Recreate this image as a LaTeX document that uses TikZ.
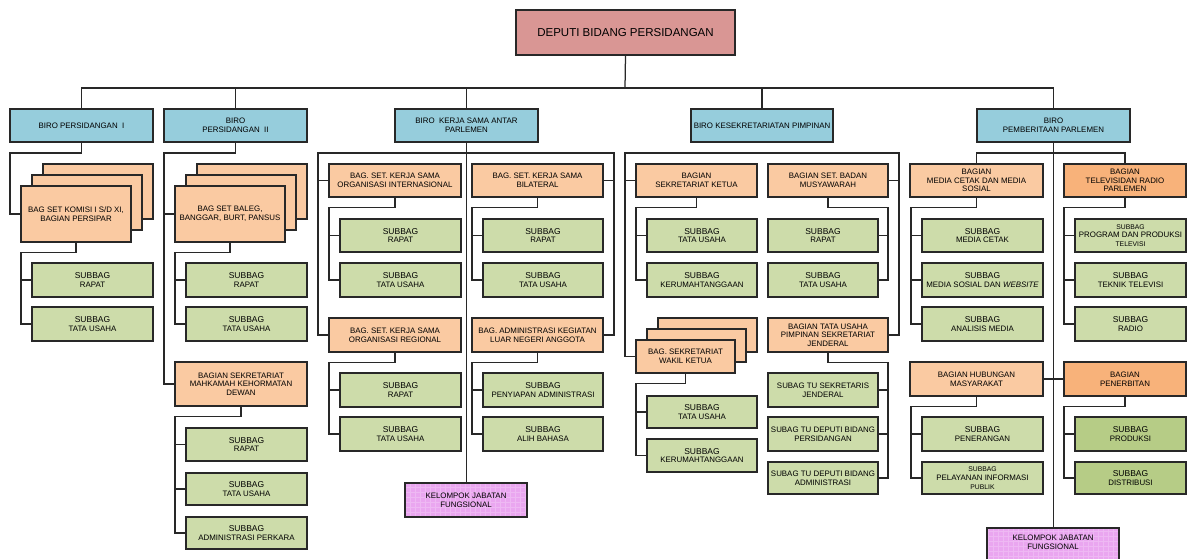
\documentclass[tikz,border=0pt]{standalone}
\usepackage{fontspec}
\setmainfont{Liberation Sans}
\usetikzlibrary{shadows}
\definecolor{cTop}{RGB}{217,150,148}
\definecolor{cBiro}{RGB}{150,205,220}
\definecolor{cBag}{RGB}{250,202,162}
\definecolor{cBagD}{RGB}{248,178,122}
\definecolor{cSub}{RGB}{205,220,170}
\definecolor{cSubD}{RGB}{182,204,134}
\definecolor{cKel}{RGB}{234,166,240}
\definecolor{cLine}{RGB}{40,40,40}
\tikzset{
 box/.style={draw=cLine, line width=1.2pt, inner sep=0pt, outer sep=0pt, align=center,
   font=\fontsize{7.9}{8.7}\selectfont,
   drop shadow={shadow xshift=1pt, shadow yshift=-1pt, opacity=0.25, fill=black}},
 topbox/.style={box, fill=cTop, font=\fontsize{11.5}{13}\selectfont},
 biro/.style={box, fill=cBiro},
 bag/.style={box, fill=cBag},
 bagd/.style={box, fill=cBagD},
 sub/.style={box, fill=cSub},
 subd/.style={box, fill=cSubD},
 kel/.style={box, fill=cKel, path picture={\draw[cKel!80!white, line width=0.25pt]
   (path picture bounding box.south west) grid[step=5pt] (path picture bounding box.north east);}},
 conn/.style={draw=cLine, line width=1.25pt},
 lbl/.style={inner sep=0pt, align=center, font=\fontsize{7.9}{8.7}\selectfont},
}
\newcommand\bx[7]{%
 \pgfmathsetmacro\bxw{#5-#3}\pgfmathsetmacro\bxh{#6-#4}%
 \pgfmathsetmacro\bxx{(#3+#5)/2}\pgfmathsetmacro\bxy{-(#4+#6)/2}%
 \node[#2, minimum width=\bxw pt, minimum height=\bxh pt] (#1) at (\bxx pt,\bxy pt) {#7};}
\newcommand\SUBW{{\fontsize{8.5}{8.7}\selectfont SUBBAG}}
\newcommand\SUBS{{\fontsize{6.8}{7.4}\selectfont SUBBAG}}
\newcommand\treeL[3]{%
 \draw[conn] (#1.south) -- ++(0,-10.5pt) -| ([xshift=-11pt]#2.west) -- (#2.west);
 \foreach \cc in {#3} {\draw[conn] ([xshift=-11pt]\cc.west) -- (\cc.west);}}
\newcommand\treeR[3]{%
 \draw[conn] (#1.south) -- ++(0,-10.5pt) -| ([xshift=10pt]#2.east) -- (#2.east);
 \foreach \cc in {#3} {\draw[conn] ([xshift=10pt]\cc.east) -- (\cc.east);}}
\begin{document}
\begin{tikzpicture}
\useasboundingbox (0,0) rectangle (1191pt,-559pt);
% top
\bx{dep}{topbox}{516}{10}{735}{55}{DEPUTI BIDANG PERSIDANGAN}
% biro
\bx{b1}{biro}{10}{109}{153}{142}{BIRO PERSIDANGAN\ \ I}
\bx{b2}{biro}{164}{109}{307}{142}{BIRO\\PERSIDANGAN\ \ II}
\bx{b3}{biro}{395}{109}{538}{142}{BIRO\ \ KERJA SAMA ANTAR\\PARLEMEN}
\bx{b4}{biro}{691}{109}{833}{142}{BIRO KESEKRETARIATAN PIMPINAN}
\bx{b5}{biro}{977}{109}{1130}{142}{BIRO\\PEMBERITAAN PARLEMEN}
% Biro I
\bx{bag1c}{bag}{43}{164}{153}{219}{}
\bx{bag1b}{bag}{32}{175}{142}{230}{}
\bx{bag1}{bag}{21}{186}{131}{242}{BAG SET KOMISI I S/D XI,\\BAGIAN PERSIPAR}
\bx{s1a}{sub}{32}{263}{153}{297}{\SUBW\\RAPAT}
\bx{s1b}{sub}{32}{307}{153}{341}{\SUBW\\TATA USAHA}
% Biro II
\bx{bag2c}{bag}{197}{164}{307}{219}{}
\bx{bag2b}{bag}{186}{175}{296}{230}{}
\bx{bag2}{bag}{175}{186}{285}{242}{BAG SET BALEG,\\BANGGAR, BURT, PANSUS}
\bx{s2a}{sub}{186}{263}{307}{297}{\SUBW\\RAPAT}
\bx{s2b}{sub}{186}{307}{307}{341}{\SUBW\\TATA USAHA}
\bx{mkd}{bag}{175}{362}{307}{406}{BAGIAN SEKRETARIAT\\MAHKAMAH KEHORMATAN\\DEWAN}
\bx{s2c}{sub}{186}{428}{307}{461}{\SUBW\\RAPAT}
\bx{s2d}{sub}{186}{473}{307}{505}{\SUBW\\TATA USAHA}
\bx{s2e}{sub}{186}{517}{307}{549}{\SUBW\\ADMINISTRASI PERKARA}
% Biro III
\bx{int}{bag}{329}{164}{461}{197}{BAG. SET. KERJA SAMA\\ORGANISASI INTERNASIONAL}
\bx{s3a}{sub}{340}{219}{461}{252}{\SUBW\\RAPAT}
\bx{s3b}{sub}{340}{263}{461}{297}{\SUBW\\TATA USAHA}
\bx{bil}{bag}{472}{164}{603}{197}{BAG. SET. KERJA SAMA\\BILATERAL}
\bx{s3c}{sub}{483}{219}{603}{252}{\SUBW\\RAPAT}
\bx{s3d}{sub}{483}{263}{603}{297}{\SUBW\\TATA USAHA}
\bx{reg}{bag}{329}{318}{461}{352}{BAG. SET. KERJA SAMA\\ORGANISASI REGIONAL}
\bx{s3e}{sub}{340}{373}{461}{407}{\SUBW\\RAPAT}
\bx{s3f}{sub}{340}{417}{461}{451}{\SUBW\\TATA USAHA}
\bx{lng}{bag}{472}{318}{603}{352}{BAG. ADMINISTRASI KEGIATAN\\LUAR NEGERI ANGGOTA}
\bx{s3g}{sub}{483}{373}{603}{407}{\SUBW\\PENYIAPAN ADMINISTRASI}
\bx{s3h}{sub}{483}{417}{603}{451}{\SUBW\\ALIH BAHASA}
\bx{kel1}{kel}{405}{483}{527}{517}{KELOMPOK JABATAN\\FUNGSIONAL}
% Biro IV
\bx{ketua}{bag}{636}{164}{757}{197}{BAGIAN\\SEKRETARIAT KETUA}
\bx{s4a}{sub}{647}{219}{757}{252}{\SUBW\\TATA USAHA}
\bx{s4b}{sub}{647}{263}{757}{297}{\SUBW\\KERUMAHTANGGAAN}
\bx{musy}{bag}{768}{164}{888}{197}{BAGIAN SET. BADAN\\MUSYAWARAH}
\bx{s4c}{sub}{768}{219}{878}{252}{\SUBW\\RAPAT}
\bx{s4d}{sub}{768}{263}{878}{297}{\SUBW\\TATA USAHA}
\bx{wakc}{bag}{658}{318}{757}{352}{}
\bx{wakb}{bag}{647}{329}{746}{362}{}
\bx{wak}{bag}{636}{340}{735}{373}{BAG. SEKRETARIAT\\WAKIL KETUA}
\bx{s4e}{sub}{647}{396}{757}{428}{\SUBW\\TATA USAHA}
\bx{s4f}{sub}{647}{439}{757}{472}{\SUBW\\KERUMAHTANGGAAN}
\bx{tup}{bag}{768}{318}{888}{352}{BAGIAN TATA USAHA\\PIMPINAN SEKRETARIAT\\JENDERAL}
\bx{s4g}{sub}{768}{373}{878}{407}{SUBAG TU SEKRETARIS\\JENDERAL}
\bx{s4h}{sub}{768}{417}{878}{451}{SUBAG TU DEPUTI BIDANG\\PERSIDANGAN}
\bx{s4i}{sub}{768}{462}{878}{494}{SUBAG TU DEPUTI BIDANG\\ADMINISTRASI}
% Biro V
\bx{media}{bag}{910}{164}{1043}{197}{BAGIAN\\MEDIA CETAK DAN MEDIA\\SOSIAL}
\bx{s5a}{sub}{922}{219}{1043}{252}{\SUBW\\MEDIA CETAK}
\bx{s5b}{sub}{922}{263}{1043}{297}{\SUBW\\MEDIA SOSIAL DAN \textit{WEBSITE}}
\bx{s5c}{sub}{922}{307}{1043}{341}{\SUBW\\ANALISIS MEDIA}
\bx{tv}{bagd}{1064}{164}{1186}{197}{BAGIAN\\TELEVISIDAN RADIO\\PARLEMEN}
\bx{s5d}{sub}{1075}{219}{1186}{252}{\SUBS\\PROGRAM DAN PRODUKSI\\{\fontsize{6.8}{7.4}\selectfont TELEVISI}}
\bx{s5e}{sub}{1075}{263}{1186}{297}{\SUBW\\TEKNIK TELEVISI}
\bx{s5f}{sub}{1075}{307}{1186}{341}{\SUBW\\RADIO}
\bx{humas}{bag}{910}{362}{1043}{396}{BAGIAN HUBUNGAN\\MASYARAKAT}
\bx{s5g}{sub}{922}{417}{1043}{451}{\SUBW\\PENERANGAN}
\bx{s5h}{sub}{922}{462}{1043}{494}{\SUBS\\PELAYANAN INFORMASI\\{\fontsize{6.8}{7.4}\selectfont PUBLIK}}
\bx{pen}{bagd}{1064}{362}{1186}{396}{BAGIAN\\PENERBITAN}
\bx{s5i}{subd}{1075}{417}{1186}{451}{\SUBW\\PRODUKSI}
\bx{s5j}{subd}{1075}{462}{1186}{494}{\SUBW\\DISTRIBUSI}
\bx{kel2}{kel}{987}{528}{1119}{564}{}
\node[lbl] (kel2t) at ([yshift=3.5pt]kel2.center) {KELOMPOK JABATAN\\FUNGSIONAL};
% ---- connectors ----
\coordinate (j0) at (625pt,-88pt);
\draw[conn] (dep.south) -- (j0);
\draw[conn] (b1.north) |- (j0) -| (b5.north);
\foreach \bb in {b2,b3,b4} {\draw[conn] (\bb.north) -- (\bb.north |- j0);}
% Biro I
\draw[conn] (b1.south) -- ++(0,-11pt) -| ([xshift=-11pt]bag1.west) -- (bag1.west);
\treeL{bag1}{s1b}{s1a}
% Biro II
\draw[conn] (b2.south) -- ++(0,-11pt) -| ([xshift=-11pt]mkd.west) -- (mkd.west);
\draw[conn] ([xshift=-11pt]bag2.west) -- (bag2.west);
\treeL{bag2}{s2b}{s2a}
\treeL{mkd}{s2e}{s2c,s2d}
% Biro III
\coordinate (j3) at ([yshift=-11pt]b3.south);
\draw[conn] (b3.south) -- (b3.south |- kel1.north);
\draw[conn] (reg.west) -- ++(-11pt,0) |- (j3) -| ([xshift=11pt]lng.east) -- (lng.east);
\draw[conn] ([xshift=-11pt]int.west) -- (int.west);
\draw[conn] ([xshift=11pt]bil.east) -- (bil.east);
\treeL{int}{s3b}{s3a}
\treeL{bil}{s3d}{s3c}
\treeL{reg}{s3f}{s3e}
\treeL{lng}{s3h}{s3g}
% Biro IV
\coordinate (j4) at ([yshift=-11pt]b4.south);
\draw[conn] (wak.west) -- ++(-11pt,0) |- (j4) -| ([xshift=11pt]tup.east) -- (tup.east);
\draw[conn] ([xshift=-11pt]ketua.west) -- (ketua.west);
\draw[conn] ([xshift=11pt]musy.east) -- (musy.east);
\treeL{ketua}{s4b}{s4a}
\treeR{musy}{s4d}{s4c}
\treeL{wak}{s4f}{s4e}
\treeR{tup}{s4i}{s4g,s4h}
% Biro V
\coordinate (j5) at ([yshift=-11pt]b5.south);
\draw[conn] (b5.south) -- (b5.south |- kel2.north);
\draw[conn] (media.north) |- (j5) -| (tv.north);
\draw[conn] (humas.east) -- (pen.west);
\treeL{media}{s5c}{s5a,s5b}
\treeL{tv}{s5f}{s5d,s5e}
\treeL{humas}{s5h}{s5g}
\treeL{pen}{s5j}{s5i}
\end{tikzpicture}
\end{document}
